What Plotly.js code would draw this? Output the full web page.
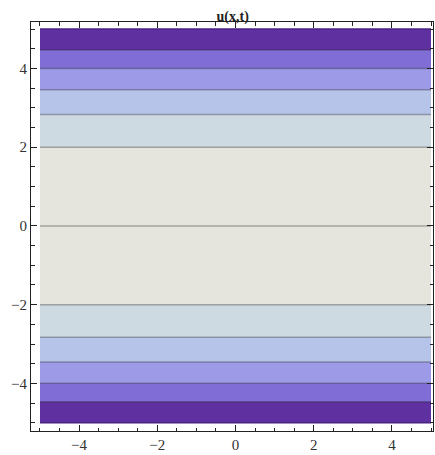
<!DOCTYPE html>
<html>
<head>
<meta charset="utf-8">
<script src="https://cdn.plot.ly/plotly-3.0.1.min.js"></script>
<style>html,body{margin:0;padding:0;background:#fff;}#chart{width:435px;height:455px;}</style>
</head>
<body>
<div id="chart"></div>
<script>
// Data: u(x,t) depends only on t (vertical axis)
var xValues = [-5, 5];
var tValues = [-5, -4.47, -4, -3.46, -2.83, -2, 0, 2, 2.83, 3.46, 4, 4.47, 5];
var uValues = [-25, -20, -16, -12, -8, -4, 0, -4, -8, -12, -16, -20, -25];
var contourStart = -20, contourEnd = -4, contourStep = 4;
var zeroLevelT = [0, 0];
var edgeTop = [5, 5];
var edgeBottom = [-5, -5];
var bandColors = ['#5e30a0', '#806ed6', '#9d9be8', '#b6c4e9', '#cddae1', '#e6e5dd'];
var xTicks = [-4, -2, 0, 2, 4];
var xTickText = ['\u22124', '\u22122', '0', '2', '4'];
var yTicks = [-4, -2, 0, 2, 4];
var yTickText = ['\u22124', '\u22122', '0', '2', '4'];

var z = uValues.map(function (u) { return xValues.map(function () { return u; }); });
var colorscale = bandColors.map(function (c, i) { return [i / (bandColors.length - 1), c]; });

var traces = [
  {
    type: 'contour', x: xValues, y: tValues, z: z,
    autocontour: false,
    contours: {start: contourStart, end: contourEnd, size: contourStep, coloring: 'fill'},
    colorscale: colorscale, showscale: false,
    line: {color: 'rgba(40,40,40,0.35)', width: 1.5, smoothing: 0},
    hoverinfo: 'skip'
  },
  {type: 'scatter', mode: 'lines', x: xValues, y: zeroLevelT,
   line: {color: 'rgba(40,40,40,0.35)', width: 1.5}, hoverinfo: 'skip', showlegend: false},
  {type: 'scatter', mode: 'lines', x: xValues, y: edgeTop,
   line: {color: '#4a2284', width: 1.5}, hoverinfo: 'skip', showlegend: false},
  {type: 'scatter', mode: 'lines', x: xValues, y: edgeBottom,
   line: {color: '#4a2284', width: 1.5}, hoverinfo: 'skip', showlegend: false}
];

var axisCommon = {
  showgrid: false, zeroline: false, showline: true, mirror: 'allticks',
  linecolor: '#222', linewidth: 1, ticks: 'inside', ticklen: 6, tickwidth: 1,
  tickcolor: '#222', tickfont: {family: '"Liberation Serif", "Times New Roman", serif', size: 15, color: '#333'},
  minor: {dtick: 0.5, ticks: 'inside', ticklen: 3.5, tickwidth: 1, tickcolor: '#222', showgrid: false}
};

var layout = {
  width: 435, height: 455,
  margin: {l: 31, r: 2, t: 22, b: 24},
  paper_bgcolor: '#ffffff', plot_bgcolor: '#ffffff',
  showlegend: false,
  title: {text: '<b>u(x,t)</b>', x: 0.535, xanchor: 'center', y: 0.965, yanchor: 'middle',
          font: {family: '"Liberation Serif", "Times New Roman", serif', size: 14, color: '#222'}},
  xaxis: Object.assign({}, axisCommon, {range: [-5.23, 5.05], tickvals: xTicks, ticktext: xTickText}),
  yaxis: Object.assign({}, axisCommon, {range: [-5.21, 5.18], tickvals: yTicks, ticktext: yTickText})
};

Plotly.newPlot('chart', traces, layout, {displayModeBar: false, staticPlot: true});
</script>
</body>
</html>
